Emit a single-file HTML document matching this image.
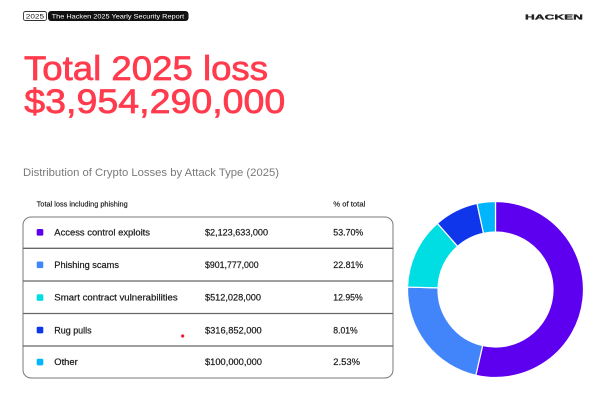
<!DOCTYPE html>
<html><head><meta charset="utf-8"><style>
html,body{margin:0;padding:0;background:#fff;}
svg{display:block;}
text{font-family:"Liberation Sans",sans-serif;}
</style></head><body>
<svg width="600" height="407" viewBox="0 0 600 407" xmlns="http://www.w3.org/2000/svg">
<rect width="600" height="407" fill="#fff"/>
<!-- header badge -->
<rect x="23.5" y="11.5" width="23" height="9" rx="2" fill="#fff" stroke="#333" stroke-width="0.9"/>
<text x="25.8" y="18.6" font-size="6.6" fill="#111" textLength="18.2" lengthAdjust="spacingAndGlyphs">2025</text>
<rect x="48" y="11" width="140.5" height="10" rx="3" fill="#111"/>
<text x="51.7" y="18.7" font-size="6.8" fill="#fff" textLength="132.5" lengthAdjust="spacingAndGlyphs">The Hacken 2025 Yearly Security Report</text>
<!-- logo -->
<text x="525" y="19.6" font-size="7.6" font-weight="bold" fill="#222" stroke="#222" stroke-width="0.3" textLength="58" lengthAdjust="spacingAndGlyphs">HACKEN</text>
<!-- title -->
<text x="24" y="80" font-size="34" fill="#ff3b4d" stroke="#ff3b4d" stroke-width="0.7" textLength="244" lengthAdjust="spacingAndGlyphs">Total 2025 loss</text>
<text x="24.3" y="112.8" font-size="34" fill="#ff3b4d" stroke="#ff3b4d" stroke-width="0.7" textLength="261" lengthAdjust="spacingAndGlyphs">$3,954,290,000</text>
<!-- subtitle -->
<text x="23" y="176" font-size="11.3" fill="#7a7a7a" textLength="256" lengthAdjust="spacingAndGlyphs">Distribution of Crypto Losses by Attack Type (2025)</text>
<!-- table headers -->
<text x="36.7" y="206.7" font-size="7" fill="#1a1a1a" stroke="#1a1a1a" stroke-width="0.15" textLength="91" lengthAdjust="spacingAndGlyphs">Total loss including phishing</text>
<text x="333.3" y="206.7" font-size="7" fill="#1a1a1a" stroke="#1a1a1a" stroke-width="0.15" textLength="32" lengthAdjust="spacingAndGlyphs">% of total</text>
<!-- table -->
<rect x="23" y="217" width="370" height="161" rx="8" fill="#fff" stroke="#7a7a7a" stroke-width="1"/>
<line x1="23" y1="248.3" x2="393" y2="248.3" stroke="#666" stroke-width="1.3"/>
<line x1="23" y1="281" x2="393" y2="281" stroke="#666" stroke-width="1.2"/>
<line x1="23" y1="313.5" x2="393" y2="313.5" stroke="#666" stroke-width="1.2"/>
<line x1="23" y1="346" x2="393" y2="346" stroke="#666" stroke-width="1.2"/>
<!-- rows -->
<g font-size="9" fill="#1a1a1a" stroke="#1a1a1a" stroke-width="0.2">
<rect x="36.7" y="229" width="6.6" height="6.6" rx="1.4" fill="#5c00ee" stroke="none"/>
<text x="54.3" y="235.5" textLength="95.7" lengthAdjust="spacingAndGlyphs">Access control exploits</text>
<text x="205" y="235.5" textLength="63" lengthAdjust="spacingAndGlyphs">$2,123,633,000</text>
<text x="333.3" y="235.5" textLength="30" lengthAdjust="spacingAndGlyphs">53.70%</text>

<rect x="36.7" y="261.5" width="6.6" height="6.6" rx="1.4" fill="#3f87fb" stroke="none"/>
<text x="54.3" y="268" textLength="64.7" lengthAdjust="spacingAndGlyphs">Phishing scams</text>
<text x="205" y="268" textLength="53.7" lengthAdjust="spacingAndGlyphs">$901,777,000</text>
<text x="333.3" y="268" textLength="30" lengthAdjust="spacingAndGlyphs">22.81%</text>

<rect x="36.7" y="294.3" width="6.6" height="6.6" rx="1.4" fill="#00dde4" stroke="none"/>
<text x="54.3" y="300.5" textLength="123.4" lengthAdjust="spacingAndGlyphs">Smart contract vulnerabilities</text>
<text x="205" y="300.5" textLength="56" lengthAdjust="spacingAndGlyphs">$512,028,000</text>
<text x="333.3" y="300.5" textLength="29.4" lengthAdjust="spacingAndGlyphs">12.95%</text>

<rect x="36.7" y="326.8" width="6.6" height="6.6" rx="1.4" fill="#0f36ea" stroke="none"/>
<text x="54.3" y="333.3" textLength="37.3" lengthAdjust="spacingAndGlyphs">Rug pulls</text>
<text x="205" y="333.3" textLength="56.7" lengthAdjust="spacingAndGlyphs">$316,852,000</text>
<text x="333.3" y="333.3" textLength="24.4" lengthAdjust="spacingAndGlyphs">8.01%</text>

<rect x="36.7" y="358.8" width="6.6" height="6.6" rx="1.4" fill="#00b6fd" stroke="none"/>
<text x="54.3" y="365.2" textLength="23.4" lengthAdjust="spacingAndGlyphs">Other</text>
<text x="205" y="365.2" textLength="57" lengthAdjust="spacingAndGlyphs">$100,000,000</text>
<text x="333.3" y="365.2" textLength="26.7" lengthAdjust="spacingAndGlyphs">2.53%</text>
</g>
<circle cx="182.7" cy="336" r="1.6" fill="#ee1c25"/>
<!-- donut -->
<g stroke="#fff" stroke-width="1.2" stroke-linejoin="round">
<path d="M495.5,201.5 A88,88 0 1 1 475.85,375.28 L482.66,345.55 A57.5,57.5 0 1 0 495.5,232 Z" fill="#5e00f0"/>
<path d="M475.85,375.28 A88,88 0 0 1 407.53,287.04 L438.02,287.9 A57.5,57.5 0 0 0 482.66,345.55 Z" fill="#4285fa"/>
<path d="M407.53,287.04 A88,88 0 0 1 437.42,223.39 L457.55,246.3 A57.5,57.5 0 0 0 438.02,287.9 Z" fill="#00dde3"/>
<path d="M437.42,223.39 A88,88 0 0 1 477.06,203.45 L483.45,233.28 A57.5,57.5 0 0 0 457.55,246.3 Z" fill="#1036ec"/>
<path d="M477.06,203.45 A88,88 0 0 1 495.5,201.5 L495.5,232 A57.5,57.5 0 0 0 483.45,233.28 Z" fill="#00b5fc"/>
</g>
</svg>
</body></html>
